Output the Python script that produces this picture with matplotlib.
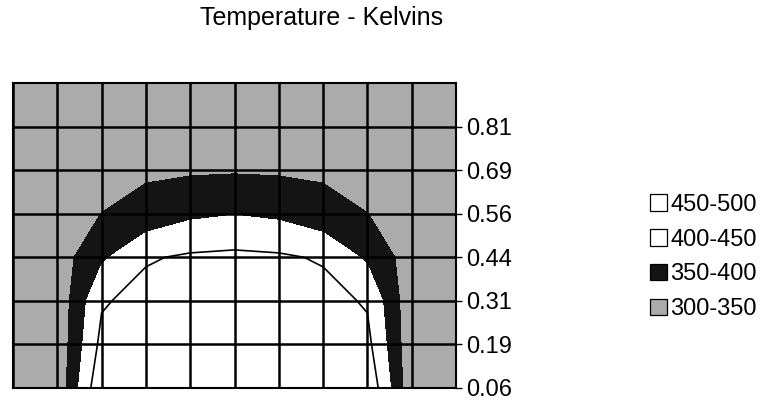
import matplotlib
matplotlib.use('Agg')
import matplotlib.pyplot as plt
from matplotlib.patches import Patch

plt.rcParams['font.family'] = ['Liberation Sans', 'DejaVu Sans']

# column index across the chart (no labels shown)
x_cols = [0, 1, 2, 3, 4, 5, 6, 7, 8, 9, 10]
# series positions on the right axis, bottom to top
y_vals = [0.0625, 0.1875, 0.3125, 0.4375, 0.5625, 0.6875, 0.8125, 0.9375]
y_labels = ['0.06', '0.19', '0.31', '0.44', '0.56', '0.69', '0.81']

# temperature (K), one row per y value (bottom first)
temp_row0 = [308, 314, 494, 497, 498, 499, 498, 497, 494, 314, 308]
temp_row1 = [310, 314, 464, 485, 490, 492, 490, 485, 464, 314, 310]
temp_row2 = [312, 315, 444.6, 467.7, 480, 485, 480, 467.7, 444.6, 315, 312]
temp_row3 = [318, 325, 390.9, 445, 456.7, 460.6, 456.7, 445, 390.9, 325, 318]
temp_row4 = [320, 328, 350.5, 366, 390, 398.1, 390, 366, 350.5, 328, 320]
temp_row5 = [322, 326, 332, 343.2, 344, 345.5, 344, 343.2, 332, 326, 322]
temp_row6 = [325, 328, 330, 334, 336, 337, 336, 334, 330, 328, 325]
temp_row7 = [328, 330, 332, 334, 335, 336, 335, 334, 332, 330, 328]
temps = [temp_row0, temp_row1, temp_row2, temp_row3,
         temp_row4, temp_row5, temp_row6, temp_row7]

levels = [300, 350, 400, 450, 500]
band_labels = ['300-350', '350-400', '400-450', '450-500']
band_colors = ['#ababab', '#141414', '#ffffff', '#ffffff']

fig = plt.figure(figsize=(7.65, 4.05), dpi=100)
ax = fig.add_axes([13 / 765, 17 / 405, 443 / 765, 305 / 405])

ax.contourf(x_cols, y_vals, temps, levels=levels, colors=band_colors)
ax.contour(x_cols, y_vals, temps, levels=[450], colors='black', linewidths=1.2)

ax.set_xlim(x_cols[0], x_cols[-1])
ax.set_ylim(y_vals[0], y_vals[-1])
ax.set_xticks(x_cols)
ax.set_xticklabels([])
ax.tick_params(axis='x', length=0)
ax.set_yticks(y_vals[:7])
ax.set_yticklabels(y_labels)
ax.yaxis.tick_right()
ax.tick_params(axis='y', length=4, width=1, pad=3, labelsize=17, colors='black')
ax.grid(True, color='black', linewidth=1.8)
ax.set_axisbelow(False)
for sp in ax.spines.values():
    sp.set_linewidth(1.5)

fig.text(322 / 765, 1 - 18 / 405, 'Temperature - Kelvins', ha='center', va='center', fontsize=18)

handles = [Patch(facecolor=band_colors[i], edgecolor='black', linewidth=0.9, label=band_labels[i])
           for i in range(3, -1, -1)]
fig.legend(handles=handles, loc='center left', bbox_to_anchor=(650 / 765, 1 - 257 / 405),
           frameon=False, fontsize=17, handlelength=0.7, handleheight=0.7,
           handletextpad=0.15, labelspacing=0.55, borderpad=0, borderaxespad=0)

fig.savefig('out.png', dpi=100)
